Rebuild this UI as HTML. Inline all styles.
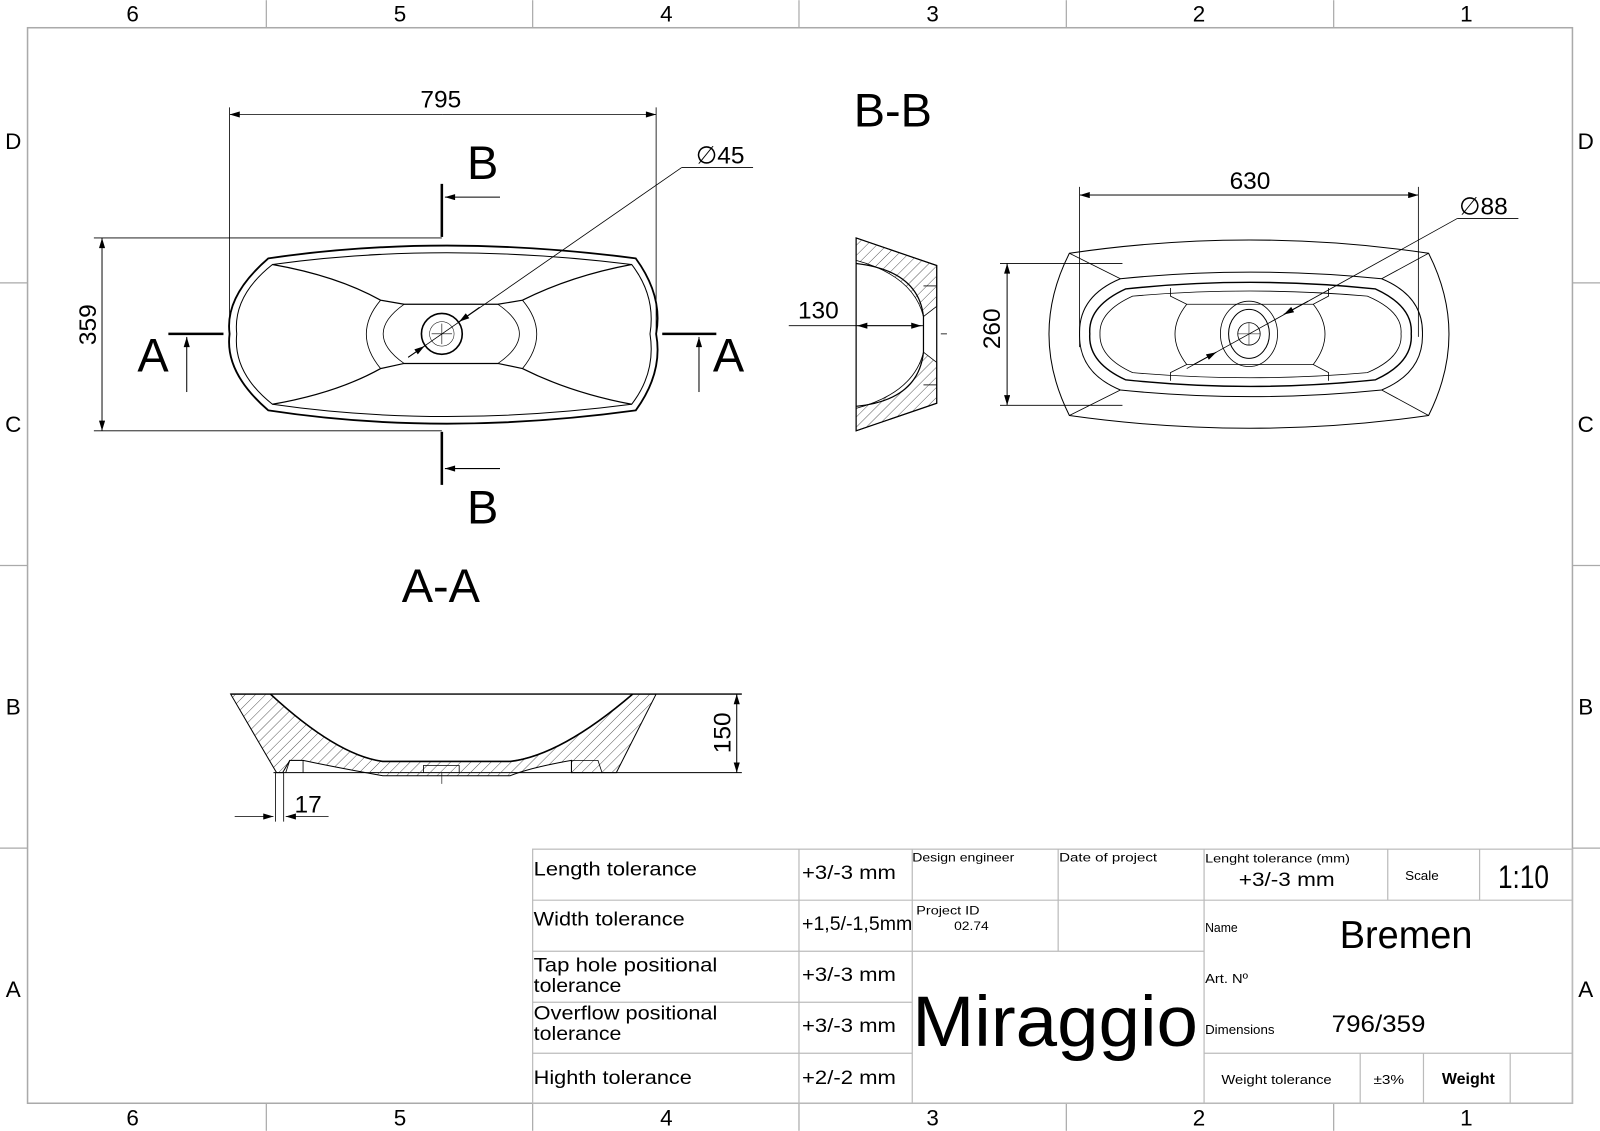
<!DOCTYPE html>
<html><head><meta charset="utf-8"><style>
html,body{margin:0;padding:0;background:#fff;}
svg{display:block;}
text{font-family:"Liberation Sans",sans-serif;fill:#000;}
.n{font-family:"DejaVu Sans Condensed","Liberation Sans Narrow","Liberation Sans",sans-serif;}
</style></head><body>
<svg width="1600" height="1131" viewBox="0 0 1568 1108" xmlns="http://www.w3.org/2000/svg">
<defs>
<marker id="ar" viewBox="0 0 10 6" refX="10" refY="3" markerWidth="14" markerHeight="6" markerUnits="userSpaceOnUse" orient="auto"><path d="M0,0 L10,3 L0,6 Z" fill="#000"/></marker>
<pattern id="h" width="7" height="7" patternUnits="userSpaceOnUse" patternTransform="rotate(45)"><line x1="0" y1="0" x2="0" y2="7" stroke="#333" stroke-width="0.8"/></pattern>
</defs>
<rect width="1568" height="1108" fill="#fff"/>
<rect x="27" y="27" width="1514" height="1054" fill="none" stroke="#aaa" stroke-width="1.5"/>
<g stroke="#aaa" stroke-width="1.2">
<line x1="261" y1="0" x2="261" y2="27"/><line x1="522" y1="0" x2="522" y2="27"/><line x1="783" y1="0" x2="783" y2="27"/><line x1="1045" y1="0" x2="1045" y2="27"/><line x1="1307" y1="0" x2="1307" y2="27"/>
<line x1="261" y1="1081" x2="261" y2="1108"/><line x1="522" y1="1081" x2="522" y2="1108"/><line x1="783" y1="1081" x2="783" y2="1108"/><line x1="1045" y1="1081" x2="1045" y2="1108"/><line x1="1307" y1="1081" x2="1307" y2="1108"/>
<line x1="0" y1="277" x2="27" y2="277"/><line x1="0" y1="554" x2="27" y2="554"/><line x1="0" y1="831" x2="27" y2="831"/>
<line x1="1541" y1="277" x2="1568" y2="277"/><line x1="1541" y1="554" x2="1568" y2="554"/><line x1="1541" y1="831" x2="1568" y2="831"/>
</g>
<g font-size="22" text-anchor="middle">
<text x="130" y="21">6</text><text x="392" y="21">5</text><text x="653" y="21">4</text><text x="914" y="21">3</text><text x="1175" y="21">2</text><text x="1437" y="21">1</text>
<text x="130" y="1103">6</text><text x="392" y="1103">5</text><text x="653" y="1103">4</text><text x="914" y="1103">3</text><text x="1175" y="1103">2</text><text x="1437" y="1103">1</text>
<text x="13" y="146">D</text><text x="13" y="423">C</text><text x="13" y="700">B</text><text x="13" y="977">A</text>
<text x="1554" y="146">D</text><text x="1554" y="423">C</text><text x="1554" y="700">B</text><text x="1554" y="977">A</text>
</g>

<g fill="none" stroke="#000">
<line x1="225" y1="105" x2="225" y2="325" stroke-width="0.8"/>
<line x1="643" y1="105" x2="643" y2="325" stroke-width="0.8"/>
<line x1="434" y1="112" x2="225" y2="112" stroke-width="0.8" marker-end="url(#ar)"/>
<line x1="434" y1="112" x2="643" y2="112" stroke-width="0.8" marker-end="url(#ar)"/>
<line x1="92" y1="233" x2="433" y2="233" stroke-width="0.8"/>
<line x1="92" y1="422" x2="433" y2="422" stroke-width="0.8"/>
<line x1="100" y1="233" x2="100" y2="422" stroke-width="0.8" marker-end="url(#ar)"/>
<line x1="100" y1="422" x2="100" y2="233" stroke-width="0.8" marker-end="url(#ar)"/>
<path d="M263,253 Q433,228 623,253 Q650,290 643,327 Q650,365 623,402 Q433,428 263,402 Q220,365 225,327 Q220,290 263,253 Z" stroke-width="1.8"/>
<path d="M267,259 Q433,236 619,259 Q643,290 637,327 Q643,365 619,396 Q433,420 267,396 Q228,365 232,327 Q228,290 267,259 Z" stroke-width="1"/>
<path d="M267,259 Q330,270 373,294 L396,298 L488,298 L512,294 Q560,270 619,259" stroke-width="1.2"/>
<path d="M267,396 Q330,385 373,361 L396,356 L488,356 L512,361 Q560,385 619,396" stroke-width="1.2"/>
<path d="M373,294 Q345,327 373,361 M512,294 Q540,327 512,361" stroke-width="0.8"/>
<path d="M396,298 Q355,327 396,356 M488,298 Q530,327 488,356" stroke-width="0.8"/>
<circle cx="433" cy="327" r="20" stroke-width="1.6"/>
<circle cx="433" cy="327" r="12" stroke-width="0.5"/>
<line x1="423" y1="327" x2="443" y2="327" stroke-width="0.6"/><line x1="433" y1="317" x2="433" y2="337" stroke-width="0.6"/>
<line x1="400" y1="350" x2="668" y2="164" stroke-width="0.8"/>
<line x1="668" y1="164" x2="738" y2="164" stroke-width="0.8"/>
<line x1="400" y1="350" x2="416" y2="339" stroke-width="1" marker-end="url(#ar)"/>
<line x1="470" y1="301" x2="450" y2="315" stroke-width="1" marker-end="url(#ar)"/>
<line x1="433" y1="180" x2="433" y2="232" stroke-width="2.5"/>
<line x1="433" y1="423" x2="433" y2="475" stroke-width="2.5"/>
<line x1="490" y1="193" x2="436" y2="193" stroke-width="1" marker-end="url(#ar)"/>
<line x1="490" y1="459" x2="436" y2="459" stroke-width="1" marker-end="url(#ar)"/>
<line x1="165" y1="327" x2="219" y2="327" stroke-width="2.5"/>
<line x1="649" y1="327" x2="702" y2="327" stroke-width="2.5"/>
<line x1="183" y1="384" x2="183" y2="330" stroke-width="1" marker-end="url(#ar)"/>
<line x1="685" y1="384" x2="685" y2="330" stroke-width="1" marker-end="url(#ar)"/>
</g>
<text x="432" y="105" font-size="24" text-anchor="middle">795</text>
<text x="0" y="0" font-size="24" text-anchor="middle" transform="translate(94,318) rotate(-90)">359</text>
<text x="682" y="160" font-size="24">∅45</text>
<text x="473" y="175" font-size="46" text-anchor="middle">B</text>
<text x="473" y="513" font-size="46" text-anchor="middle">B</text>
<text x="150" y="364" font-size="46" text-anchor="middle">A</text>
<text x="714" y="364" font-size="46" text-anchor="middle">A</text>
<text x="432" y="590" font-size="46" text-anchor="middle">A-A</text>
<text x="875" y="124" font-size="46" text-anchor="middle">B-B</text>

<g fill="none" stroke="#000">
<path d="M839,233 L918,260 L918,395 L839,422 Z" stroke-width="1.2"/>
<path d="M839,233 L918,260 L918,300 L905,310 Q895,270 839,255 Z" fill="url(#h)" stroke-width="0.8"/>
<path d="M839,422 L918,395 L918,355 L905,345 Q895,385 839,400 Z" fill="url(#h)" stroke-width="0.8"/>
<path d="M839,258 Q900,265 905,310 L905,345 Q900,392 839,398" stroke-width="1.2"/>
<line x1="918" y1="280" x2="905" y2="280" stroke-width="0.8"/><line x1="918" y1="377" x2="905" y2="377" stroke-width="0.8"/>
<line x1="773" y1="319" x2="905" y2="319" stroke-width="0.8"/>
<line x1="870" y1="319" x2="840" y2="319" stroke-width="0.8" marker-end="url(#ar)"/>
<line x1="870" y1="319" x2="903" y2="319" stroke-width="0.8" marker-end="url(#ar)"/>
<line x1="922" y1="327" x2="928" y2="327" stroke-width="0.8"/>
</g>
<text x="802" y="312" font-size="24" text-anchor="middle">130</text>

<g fill="none" stroke="#000">
<line x1="1058" y1="183" x2="1058" y2="340" stroke-width="0.8"/>
<line x1="1390" y1="183" x2="1390" y2="330" stroke-width="0.8"/>
<line x1="1058" y1="191" x2="1390" y2="191" stroke-width="0.8" marker-end="url(#ar)"/>
<line x1="1390" y1="191" x2="1058" y2="191" stroke-width="0.8" marker-end="url(#ar)"/>
<line x1="980" y1="258" x2="1100" y2="258" stroke-width="0.8"/>
<line x1="980" y1="397" x2="1100" y2="397" stroke-width="0.8"/>
<line x1="987" y1="258" x2="987" y2="397" stroke-width="0.8" marker-end="url(#ar)"/>
<line x1="987" y1="397" x2="987" y2="258" stroke-width="0.8" marker-end="url(#ar)"/>
<path d="M1048,248 Q1225,222 1400,248 Q1440,327 1400,407 Q1225,432 1048,407 Q1008,327 1048,248 Z" stroke-width="1"/>
<path d="M1098,273 Q1225,260 1354,273 Q1395,290 1394,327 Q1395,365 1354,382 Q1225,395 1098,382 Q1057,365 1058,327 Q1057,290 1098,273 Z" stroke-width="1"/>
<path d="M1048,248 L1098,273 M1400,248 L1354,273 M1048,407 L1098,382 M1400,407 L1354,382" stroke-width="0.8"/>
<path d="M1103,283 Q1225,270 1348,283 Q1385,300 1383,327 Q1385,355 1348,372 Q1225,385 1103,372 Q1066,355 1068,327 Q1066,300 1103,283 Z" stroke-width="1.4"/>
<path d="M1110,290 Q1225,280 1340,290 Q1375,305 1373,327 Q1375,350 1340,365 Q1225,375 1110,365 Q1077,350 1078,327 Q1077,305 1110,290 Z" stroke-width="0.8"/>
<path d="M1147,282 L1147,290 L1163,298 L1287,298 L1302,290 L1302,282 M1147,373 L1147,365 L1163,357 L1287,357 L1302,365 L1302,373" stroke-width="0.8"/>
<path d="M1163,298 Q1140,327 1163,357 M1287,298 Q1310,327 1287,357" stroke-width="0.8"/>
<ellipse cx="1224" cy="327" rx="28" ry="32" stroke-width="0.8"/>
<ellipse cx="1224" cy="327" rx="20" ry="24" stroke-width="1"/>
<circle cx="1224" cy="327" r="11" stroke-width="0.8"/>
<line x1="1213" y1="327" x2="1235" y2="327" stroke-width="0.5"/><line x1="1224" y1="316" x2="1224" y2="338" stroke-width="0.5"/>
<line x1="1163" y1="361" x2="1428" y2="214" stroke-width="0.8"/>
<line x1="1428" y1="214" x2="1488" y2="214" stroke-width="0.8"/>
<line x1="1170" y1="357" x2="1192" y2="345" stroke-width="1" marker-end="url(#ar)"/>
<line x1="1282" y1="295" x2="1258" y2="308" stroke-width="1" marker-end="url(#ar)"/>
</g>
<text x="1225" y="185" font-size="24" text-anchor="middle">630</text>
<text x="0" y="0" font-size="24" text-anchor="middle" transform="translate(980,322) rotate(-90)">260</text>
<text x="1430" y="210" font-size="24">∅88</text>

<g fill="none" stroke="#000">
<line x1="226" y1="680" x2="727" y2="680" stroke-width="1.4"/>
<line x1="268" y1="757" x2="727" y2="757" stroke-width="1"/>
<path d="M226,680 L265,680 Q330,740 375,746 L500,746 Q550,740 620,680 L643,680 L604,757 L560,757 L560,745 Q520,752 500,760 L375,760 Q330,752 297,745 L284,745 L277,757 L271,757 Z" fill="url(#h)" stroke-width="1"/>
<path d="M265,680 Q330,740 375,746 L500,746 Q550,740 620,680" stroke-width="1.6"/>
<path d="M280,757 L284,745 L297,745 L297,757 M560,757 L560,745 L586,745 L590,757" stroke-width="0.8"/>
<path d="M415,757 L415,750 L450,750 L450,757" stroke-width="0.8"/>
<line x1="433" y1="757" x2="433" y2="768" stroke-width="0.6"/>
<line x1="722" y1="680" x2="722" y2="757" stroke-width="0.8" marker-end="url(#ar)"/>
<line x1="722" y1="757" x2="722" y2="680" stroke-width="0.8" marker-end="url(#ar)"/>
<line x1="270" y1="757" x2="270" y2="805" stroke-width="0.8"/>
<line x1="278" y1="757" x2="278" y2="805" stroke-width="0.8"/>
<line x1="230" y1="800" x2="268" y2="800" stroke-width="0.8" marker-end="url(#ar)"/>
<line x1="322" y1="800" x2="280" y2="800" stroke-width="0.8" marker-end="url(#ar)"/>
</g>
<text x="0" y="0" font-size="24" text-anchor="middle" transform="translate(716,718) rotate(-90)">150</text>
<text x="302" y="796" font-size="24" text-anchor="middle">17</text>

<g stroke="#bbb" stroke-width="1.2" fill="none">
<rect x="522" y="832" width="1019" height="249"/>
<line x1="522" y1="882" x2="894" y2="882"/><line x1="894" y1="882" x2="1180" y2="882"/><line x1="1180" y1="882" x2="1541" y2="882"/>
<line x1="522" y1="932" x2="1180" y2="932"/>
<line x1="522" y1="982" x2="894" y2="982"/>
<line x1="522" y1="1032" x2="894" y2="1032"/><line x1="1180" y1="1032" x2="1541" y2="1032"/>
<line x1="783" y1="832" x2="783" y2="1081"/>
<line x1="894" y1="832" x2="894" y2="1081"/>
<line x1="1037" y1="832" x2="1037" y2="932"/>
<line x1="1180" y1="832" x2="1180" y2="1081"/>
<line x1="1360" y1="832" x2="1360" y2="882"/><line x1="1450" y1="832" x2="1450" y2="882"/>
<line x1="1333" y1="1032" x2="1333" y2="1081"/><line x1="1395" y1="1032" x2="1395" y2="1081"/><line x1="1480" y1="1032" x2="1480" y2="1081"/>
</g>
<g class="n">
<text x="523" y="858" font-size="19" textLength="160" lengthAdjust="spacingAndGlyphs">Length tolerance</text>
<text x="523" y="907" font-size="19" textLength="148" lengthAdjust="spacingAndGlyphs">Width tolerance</text>
<text x="523" y="952" font-size="19" textLength="180" lengthAdjust="spacingAndGlyphs">Tap hole positional</text>
<text x="523" y="972" font-size="19" textLength="86" lengthAdjust="spacingAndGlyphs">tolerance</text>
<text x="523" y="999" font-size="19" textLength="180" lengthAdjust="spacingAndGlyphs">Overflow positional</text>
<text x="523" y="1019" font-size="19" textLength="86" lengthAdjust="spacingAndGlyphs">tolerance</text>
<text x="523" y="1062" font-size="19" textLength="155" lengthAdjust="spacingAndGlyphs">Highth tolerance</text>
<text x="786" y="861" font-size="19" textLength="92" lengthAdjust="spacingAndGlyphs">+3/-3 mm</text>
<text x="786" y="911" font-size="19" textLength="108" lengthAdjust="spacingAndGlyphs">+1,5/-1,5mm</text>
<text x="786" y="961" font-size="19" textLength="92" lengthAdjust="spacingAndGlyphs">+3/-3 mm</text>
<text x="786" y="1011" font-size="19" textLength="92" lengthAdjust="spacingAndGlyphs">+3/-3 mm</text>
<text x="786" y="1062" font-size="19" textLength="92" lengthAdjust="spacingAndGlyphs">+2/-2 mm</text>
<text x="894" y="844" font-size="12" textLength="100" lengthAdjust="spacingAndGlyphs">Design engineer</text>
<text x="1038" y="844" font-size="12" textLength="96" lengthAdjust="spacingAndGlyphs">Date of project</text>
<text x="898" y="896" font-size="12" textLength="62" lengthAdjust="spacingAndGlyphs">Project ID</text>
<text x="935" y="911" font-size="12" textLength="34" lengthAdjust="spacingAndGlyphs">02.74</text>
<text x="894" y="1025" font-size="70" textLength="280" lengthAdjust="spacingAndGlyphs">Miraggio</text>
<text x="1181" y="845" font-size="12" textLength="142" lengthAdjust="spacingAndGlyphs">Lenght tolerance (mm)</text>
<text x="1214" y="868" font-size="19" textLength="94" lengthAdjust="spacingAndGlyphs">+3/-3 mm</text>
<text x="1377" y="862" font-size="13" textLength="33" lengthAdjust="spacingAndGlyphs">Scale</text>
<text x="1468" y="870" font-size="32" textLength="50" lengthAdjust="spacingAndGlyphs">1:10</text>
<text x="1181" y="913" font-size="13" textLength="32" lengthAdjust="spacingAndGlyphs">Name</text>
<text x="1313" y="929" font-size="38" textLength="130" lengthAdjust="spacingAndGlyphs">Bremen</text>
<text x="1181" y="963" font-size="13" textLength="42" lengthAdjust="spacingAndGlyphs">Art. Nº</text>
<text x="1181" y="1013" font-size="13" textLength="68" lengthAdjust="spacingAndGlyphs">Dimensions</text>
<text x="1305" y="1011" font-size="24" textLength="92" lengthAdjust="spacingAndGlyphs">796/359</text>
<text x="1197" y="1062" font-size="13" textLength="108" lengthAdjust="spacingAndGlyphs">Weight tolerance</text>
<text x="1346" y="1062" font-size="13" textLength="30" lengthAdjust="spacingAndGlyphs">±3%</text>
<text x="1413" y="1062" font-size="15" font-weight="bold" textLength="52" lengthAdjust="spacingAndGlyphs">Weight</text>
</g>
</svg>
</body></html>
